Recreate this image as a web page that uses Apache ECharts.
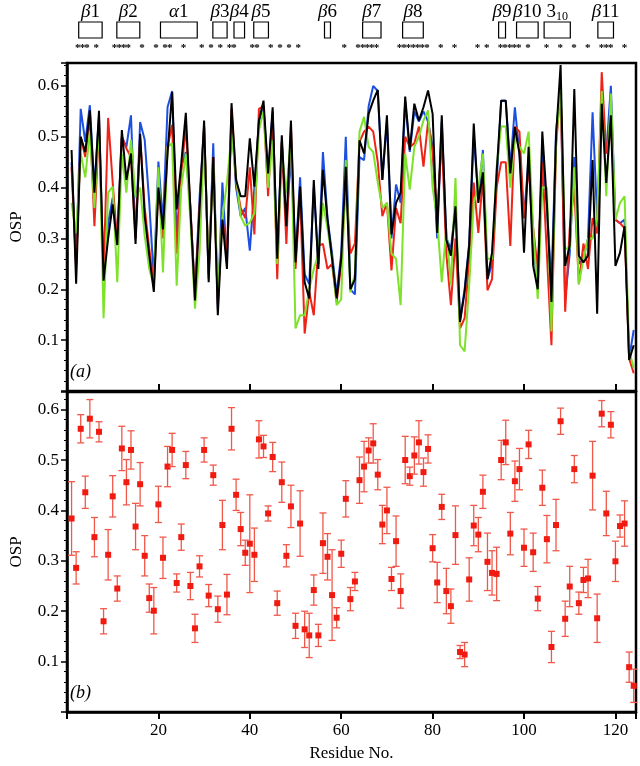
<!DOCTYPE html>
<html>
<head>
<meta charset="utf-8">
<script src="https://cdn.jsdelivr.net/npm/echarts@6/dist/echarts.min.js"></script>
<style>
  html, body { margin: 0; padding: 0; background: #fff; }
  #main { width: 640px; height: 766px; }
</style>
</head>
<body>
<div id="main"></div>
<script>
// residues 1..124
var residues = [];
for (var i = 1; i <= 124; i++) residues.push(i);

/************ panel (a): four OSP curves ************/
var ospBlack = [
  .474,.211,.50,.47,.552,.39,.551,.217,.30,.367,
  .287,.513,.415,.467,.289,.506,.344,.266,.195,.40,
  .318,.467,.588,.357,.448,.547,.357,.178,.357,.532,
  .214,.46,.149,.337,.24,.566,.415,.383,.383,.497,
  .402,.532,.571,.428,.558,.26,.503,.324,.532,.253,
  .402,.214,.182,.415,.24,.435,.337,.26,.182,.26,
  .441,.20,.22,.493,.467,.545,.571,.592,.415,.542,
  .308,.37,.39,.579,.474,.565,.532,.558,.591,.545,
  .311,.542,.298,.266,.363,.136,.195,.286,.526,.37,
  .43,.22,.272,.428,.571,.571,.428,.519,.467,.272,
  .48,.246,.20,.51,.37,.175,.50,.641,.246,.286,
  .594,.266,.253,.266,.454,.152,.565,.409,.542,.246,
  .272,.324,.061,.09
];
var ospBlue = [
  .45,.25,.555,.49,.562,.40,.54,.22,.33,.38,
  .30,.50,.48,.542,.30,.529,.494,.37,.22,.451,
  .33,.558,.59,.30,.44,.47,.36,.19,.38,.52,
  .22,.487,.16,.41,.25,.54,.40,.344,.36,.276,
  .40,.53,.56,.42,.55,.27,.49,.33,.46,.26,
  .42,.23,.21,.40,.25,.47,.34,.27,.19,.27,
  .50,.20,.19,.46,.454,.56,.60,.59,.415,.53,
  .30,.406,.37,.57,.47,.55,.53,.55,.53,.48,
  .30,.53,.30,.28,.36,.14,.20,.29,.50,.38,
  .474,.22,.25,.41,.571,.571,.44,.558,.467,.34,
  .46,.28,.21,.47,.36,.21,.51,.60,.181,.27,
  .46,.25,.26,.30,.548,.34,.55,.467,.60,.337,
  .33,.337,.064,.12
];
var ospRed = [
  .44,.24,.50,.46,.54,.324,.52,.23,.537,.41,
  .29,.50,.477,.46,.30,.50,.36,.28,.21,.40,
  .30,.48,.523,.27,.43,.52,.36,.19,.36,.52,
  .23,.46,.17,.34,.27,.555,.41,.36,.34,.44,
  .308,.555,.56,.383,.54,.22,.49,.289,.52,.24,
  .39,.113,.195,.149,.286,.289,.24,.25,.175,.25,
  .41,.27,.29,.49,.51,.52,.51,.45,.344,.37,
  .237,.36,.33,.50,.48,.487,.52,.441,.53,.47,
  .34,.50,.27,.169,.30,.123,.143,.26,.41,.311,
  .42,.198,.22,.40,.45,.45,.285,.52,.51,.34,
  .44,.32,.24,.45,.27,.09,.48,.60,.156,.32,
  .40,.21,.29,.24,.34,.31,.627,.467,.53,.337,
  .33,.32,.064,.035
];
var ospGreen = [
  .37,.31,.467,.42,.51,.36,.53,.143,.39,.402,
  .214,.467,.39,.494,.38,.40,.305,.24,.208,.44,
  .233,.48,.487,.207,.40,.467,.337,.162,.272,.50,
  .24,.45,.195,.34,.41,.506,.42,.344,.325,.331,
  .35,.513,.55,.40,.494,.25,.47,.39,.50,.123,
  .149,.149,.20,.24,.27,.37,.32,.26,.169,.18,
  .454,.194,.23,.51,.539,.48,.47,.41,.36,.37,
  .27,.26,.169,.467,.396,.48,.50,.532,.552,.40,
  .337,.214,.32,.208,.419,.09,.078,.208,.37,.40,
  .467,.26,.26,.44,.52,.52,.40,.50,.48,.467,
  .51,.32,.181,.40,.40,.117,.49,.597,.28,.28,
  .44,.21,.26,.30,.30,.34,.59,.383,.585,.337,
  .37,.383,.08,.045
];

/************ panel (b): mean OSP with error bars ************/
var ospMean = [
  .384,.286,.562,.436,.582,.347,.556,.18,.312,.428,
  .245,.523,.456,.52,.368,.452,.31,.226,.201,.412,
  .306,.487,.52,.256,.347,.49,.25,.166,.289,.52,
  .231,.47,.204,.371,.233,.562,.431,.363,.316,.334,
  .312,.541,.527,.394,.506,.216,.456,.31,.408,.171,
  .374,.164,.152,.242,.152,.335,.308,.232,.187,.314,
  .423,.224,.259,.46,.487,.519,.533,.471,.372,.40,
  .264,.339,.24,.50,.468,.509,.535,.476,.522,.325,
  .257,.407,.24,.21,.351,.119,.114,.263,.37,.352,
  .437,.298,.276,.274,.50,.535,.354,.458,.482,.326,
  .531,.317,.225,.445,.343,.129,.371,.577,.185,.249,
  .482,.216,.262,.265,.469,.186,.592,.394,.57,.299,
  .369,.374,.089,.052
];
var ospErr = [
  .073,.032,.028,.032,.038,.039,.02,.025,.05,.041,
  .025,.044,.045,.038,.046,.043,.04,.028,.046,.036,
  .041,.04,.033,.018,.026,.027,.027,.028,.021,.024,
  .022,.02,.026,.049,.04,.042,.031,.033,.025,.097,
  .053,.037,.022,.015,.029,.024,.04,.022,.042,.025,
  .065,.036,.044,.03,.022,.06,.046,.09,.02,.027,
  .036,.023,.018,.046,.05,.025,.039,.03,.038,.046,
  .023,.05,.034,.047,.018,.037,.043,.028,.028,.027,
  .04,.025,.045,.034,.058,.013,.024,.043,.04,.034,
  .033,.057,.044,.053,.039,.044,.042,.04,.041,.037,
  .028,.038,.024,.035,.047,.031,.051,.026,.035,.04,
  .027,.022,.025,.038,.068,.048,.026,.044,.026,.04,
  .022,.045,.03,.033
];

/************ secondary structure annotation ************/
var ssNames = ['β1','β2','α1','β3','β4','β5','β6','β7','β8','β9','β10','3_10','β11'];
var ssStart = [3.2, 11.5, 21, 32.4, 37, 41.3, 56.7, 65, 73.7, 94.6, 98.5, 104.5, 116.2];
var ssEnd   = [8.3, 16.5, 29, 35.5, 39.3, 44.5, 58, 69, 78.2, 96.1, 103.2, 110.2, 119.6];
var starRes = [3,4,5,7, 11,12,13,14,17, 20,22,23,26, 30,32,34,36,37,
  41,42,45,47,49,51, 61, 64,65,66,67,68, 73,74,75,76,77,78,79,82,85,
  90,92, 95,96,97,98,99,101, 105,108,111,114,117,118,119,122];

var xTicks = [20, 40, 60, 80, 100, 120];
var yTicks = [0.1, 0.2, 0.3, 0.4, 0.5, 0.6];

var serif = '"Liberation Serif", "DejaVu Serif", serif';

function pairs(ys) {
  return residues.map(function (r, k) { return [r, ys[k]]; });
}

function xAxisCfg(idx, showLabels) {
  return {
    type: 'value', gridIndex: idx, min: 0, max: 124.5, interval: 20,
    axisLine: { show: idx !== 2, lineStyle: { color: '#000', width: 2.5 } },
    axisTick: { show: idx !== 2, inside: idx === 0, length: 7, lineStyle: { color: '#000', width: 2 } },
    axisLabel: {
      show: showLabels, color: '#000', fontFamily: serif, fontSize: 17, margin: 10,
      formatter: function (v) { return xTicks.indexOf(v) >= 0 ? v : ''; }
    },
    splitLine: { show: false },
    name: showLabels ? 'Residue No.' : '', nameLocation: 'middle', nameGap: 33,
    nameTextStyle: { color: '#000', fontFamily: serif, fontSize: 17 }
  };
}

function yAxisCfg(idx, max) {
  return {
    type: 'value', gridIndex: idx, min: 0, max: max, interval: 0.1,
    axisLine: { show: true, lineStyle: { color: '#000', width: 2.5 } },
    axisTick: { length: 6, lineStyle: { color: '#000', width: 1.5 } },
    minorTick: { show: true, splitNumber: 5, length: 3, lineStyle: { color: '#000' } },
    axisLabel: {
      color: '#000', fontFamily: serif, fontSize: 17, margin: 8,
      showMinLabel: false, showMaxLabel: false,
      formatter: function (v) {
        var t = Math.round(v * 10) / 10;
        return yTicks.indexOf(t) >= 0 ? t.toFixed(1) : '';
      }
    },
    splitLine: { show: false },
    name: 'OSP', nameLocation: 'middle', nameGap: 42,
    nameTextStyle: { color: '#000', fontFamily: serif, fontSize: 17 }
  };
}

function lineSeries(ys, color) {
  return {
    type: 'line', xAxisIndex: 0, yAxisIndex: 0, data: pairs(ys),
    symbol: 'none', lineStyle: { color: color, width: 2 }, silent: true
  };
}

option = {
  animation: false,
  backgroundColor: '#fff',
  grid: [
    { left: 64, right: 4, top: 63, height: 328, show: true, borderColor: '#000', borderWidth: 2.5 },
    { left: 64, right: 4, top: 392, height: 320, show: true, borderColor: '#000', borderWidth: 2.5 },
    { left: 64, right: 4, top: 0, height: 60 }
  ],
  xAxis: [xAxisCfg(0, false), xAxisCfg(1, true),
    { type: 'value', gridIndex: 2, min: 0, max: 124.5, show: false }],
  yAxis: [yAxisCfg(0, 0.645), yAxisCfg(1, 0.635),
    { type: 'value', gridIndex: 2, min: 0, max: 60, inverse: true, show: false }],
  graphic: [
    { type: 'text', left: 70, top: 363, style: { text: '(a)', font: 'italic 18px ' + serif, fill: '#000' } },
    { type: 'text', left: 70, top: 684, style: { text: '(b)', font: 'italic 18px ' + serif, fill: '#000' } }
  ],
  series: [
    lineSeries(ospBlue, '#1d4fe0'),
    lineSeries(ospRed, '#ee2418'),
    lineSeries(ospGreen, '#7ee22a'),
    lineSeries(ospBlack, '#000'),
    {
      type: 'custom', xAxisIndex: 1, yAxisIndex: 1,
      data: residues.map(function (r, k) { return [r, ospMean[k], ospErr[k]]; }),
      encode: { x: 0, y: 1 },
      renderItem: function (params, api) {
        var x = api.value(0), y = api.value(1), e = api.value(2);
        var top = api.coord([x, y + e]), bot = api.coord([x, y - e]), c = api.coord([x, y]);
        var st = { stroke: '#f0584a', lineWidth: 1.3 };
        return {
          type: 'group',
          children: [
            { type: 'line', shape: { x1: top[0], y1: top[1], x2: bot[0], y2: bot[1] }, style: st },
            { type: 'line', shape: { x1: top[0] - 3.5, y1: top[1], x2: top[0] + 3.5, y2: top[1] }, style: st },
            { type: 'line', shape: { x1: bot[0] - 3.5, y1: bot[1], x2: bot[0] + 3.5, y2: bot[1] }, style: st },
            { type: 'rect', shape: { x: c[0] - 3, y: c[1] - 3, width: 6, height: 6 }, style: { fill: '#f01a10' } }
          ]
        };
      }
    },
    {
      type: 'custom', xAxisIndex: 2, yAxisIndex: 2,
      data: ssNames.map(function (n, k) { return [ssStart[k], ssEnd[k], k]; }),
      renderItem: function (params, api) {
        var s = api.value(0), e = api.value(1), name = ssNames[api.value(2)];
        var p0 = api.coord([s, 22]), p1 = api.coord([e, 38]), t = api.coord([(s + e) / 2, 12]);
        var txt = name === '3_10' ? '{n|3}{s|10}' : '{g|' + name.charAt(0) + '}{n|' + name.slice(1) + '}';
        return {
          type: 'group',
          children: [
            { type: 'rect', shape: { x: p0[0], y: p0[1], width: p1[0] - p0[0], height: p1[1] - p0[1] },
              style: { fill: 'none', stroke: '#000', lineWidth: 1.2 } },
            { type: 'text', x: t[0], y: t[1], style: {
                text: txt, align: 'center', verticalAlign: 'middle',
                rich: {
                  g: { fontFamily: serif, fontStyle: 'italic', fontSize: 19, fill: '#000' },
                  n: { fontFamily: serif, fontSize: 19, fill: '#000' },
                  s: { fontFamily: serif, fontSize: 12, fill: '#000', padding: [10, 0, 0, 0] }
                }
              } }
          ]
        };
      }
    },
    {
      type: 'custom', xAxisIndex: 2, yAxisIndex: 2,
      data: starRes.map(function (r) { return [r, 48]; }),
      encode: { x: 0, y: 1 },
      renderItem: function (params, api) {
        var p = api.coord([api.value(0), api.value(1)]);
        return { type: 'text', x: p[0], y: p[1], style: {
          text: '*', align: 'center', verticalAlign: 'middle',
          font: 'bold 11px ' + serif, fill: '#000' } };
      }
    }
  ]
};

var chart = echarts.init(document.getElementById('main'));
chart.setOption(option);
</script>
</body>
</html>
